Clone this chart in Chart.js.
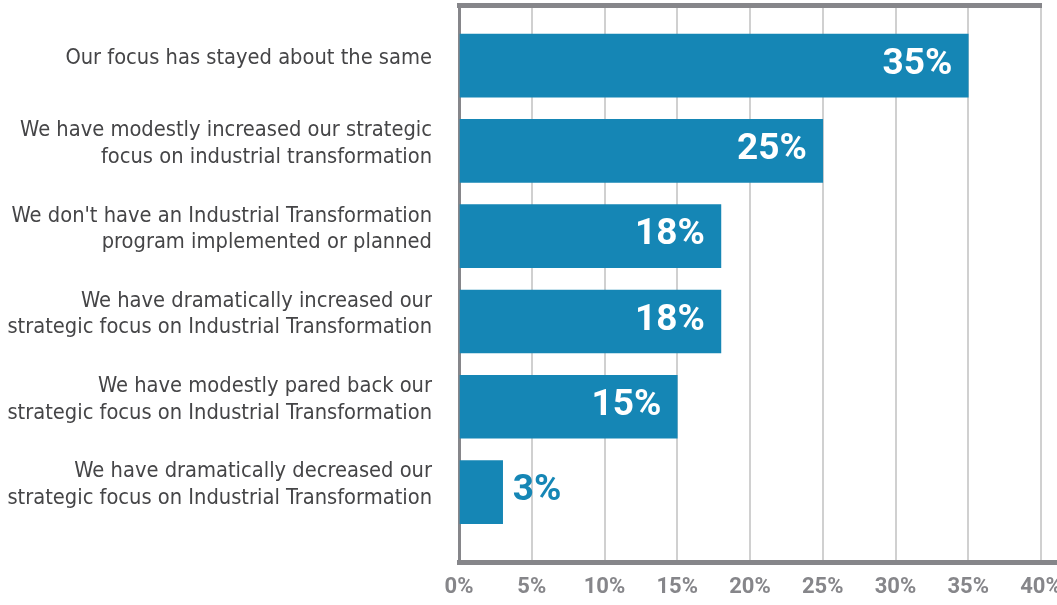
<!DOCTYPE html>
<html>
<head>
<meta charset="utf-8">
<script src="https://cdn.jsdelivr.net/npm/chart.js@4"></script>
<style>
  html, body { margin: 0; padding: 0; background: #fff; }
  #wrap { width: 1057px; height: 605px; }
</style>
</head>
<body>
<div id="wrap"><canvas id="myChart"></canvas></div>
<script>
const categories = [
  ['Our focus has stayed about the same'],
  ['We have modestly increased our strategic', 'focus on industrial transformation'],
  ["We don't have an Industrial Transformation", 'program implemented or planned'],
  ['We have dramatically increased our', 'strategic focus on Industrial Transformation'],
  ['We have modestly pared back our', 'strategic focus on Industrial Transformation'],
  ['We have dramatically decreased our', 'strategic focus on Industrial Transformation']
];
const shares = [35, 25, 18, 18, 15, 3];
const xTicks = [0, 5, 10, 15, 20, 25, 30, 35, 40];

const barBlue = '#1586b5';
const axisGray = '#86868a';
const narrow = '"DejaVu Sans Condensed", "Liberation Sans Narrow", sans-serif';
const boldFont = 'Roboto, "DejaVu Sans Condensed", sans-serif';

// percent labels: inside the bar when it fits, else just past its end
const valueLabels = {
  id: 'valueLabels',
  afterDatasetsDraw(chart) {
    const c = chart.ctx;
    const meta = chart.getDatasetMeta(0);
    c.save();
    c.font = 'bold 37px ' + boldFont;
    c.textBaseline = 'middle';
    meta.data.forEach((bar, i) => {
      const txt = shares[i] + '%';
      const w = c.measureText(txt).width;
      if (bar.x - bar.base > w + 30) {
        c.fillStyle = '#fff';
        c.textAlign = 'right';
        c.fillText(txt, bar.x - 16, bar.y - 1);
      } else {
        c.fillStyle = barBlue;
        c.textAlign = 'left';
        c.fillText(txt, bar.x + 10, bar.y - 1);
      }
    });
    c.restore();
  }
};

// the bottom axis line runs on to the right edge of the picture
const axisRunout = {
  id: 'axisRunout',
  afterDraw(chart) {
    const c = chart.ctx;
    const area = chart.chartArea;
    const y = Math.round(area.bottom) + 0.5;
    c.save();
    c.strokeStyle = axisGray;
    c.lineWidth = 5;
    c.beginPath();
    c.moveTo(area.right, y);
    c.lineTo(chart.width, y);
    c.stroke();
    c.restore();
  }
};

const ctx = document.getElementById('myChart');

new Chart(ctx, {
  type: 'bar',
  data: {
    datasets: [{
      data: shares.map((v, i) => ({ x: v, y: i })),
      backgroundColor: barBlue,
      barThickness: 63
    }]
  },
  options: {
    indexAxis: 'y',
    responsive: true,
    maintainAspectRatio: false,
    animation: false,
    layout: { padding: { top: 5, right: 16 } },
    plugins: {
      legend: { display: false },
      tooltip: { enabled: false }
    },
    scales: {
      x: {
        type: 'linear',
        min: xTicks[0],
        max: xTicks[xTicks.length - 1],
        afterBuildTicks: s => { s.ticks = xTicks.map(v => ({ value: v })); },
        ticks: {
          callback: v => v + '%',
          color: axisGray,
          font: { family: boldFont, size: 22, weight: 'bold' },
          padding: 12
        },
        grid: {
          color: c => (c.tick && c.tick.value === 0) ? 'rgba(0,0,0,0)' : '#d0d0d0',
          lineWidth: 2,
          drawTicks: false
        },
        border: { color: axisGray, width: 5 },
        afterFit: s => { s.height = 43; s.paddingLeft = 0; s.paddingRight = 0; }
      },
      x2: {
        type: 'linear',
        position: 'top',
        ticks: { display: false },
        grid: { display: false, drawTicks: false },
        border: { color: axisGray, width: 5 },
        afterFit: s => { s.height = 0; s.paddingLeft = 0; s.paddingRight = 0; }
      },
      y: {
        type: 'linear',
        reverse: true,
        offset: false,
        min: -0.71,
        max: 5.82,
        afterBuildTicks: s => { s.ticks = categories.map((_, i) => ({ value: i })); },
        ticks: {
          callback: v => categories[v],
          color: '#454547',
          font: { family: narrow, size: 21.7, lineHeight: 1.22 },
          padding: 27,
          labelOffset: -7
        },
        grid: { display: false, drawTicks: false },
        border: { color: axisGray, width: 3 },
        afterFit: s => { s.width = 459; s.paddingTop = 0; s.paddingBottom = 0; }
      }
    }
  },
  plugins: [valueLabels, axisRunout]
});
</script>
</body>
</html>
